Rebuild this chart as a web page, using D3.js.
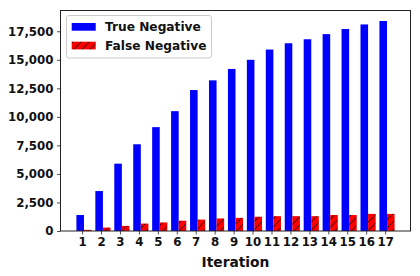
<!DOCTYPE html>
<html>
<head>
<meta charset="utf-8">
<script src="https://cdn.jsdelivr.net/npm/d3@7"></script>
<style>
  html, body { margin: 0; padding: 0; background: #fff; }
  svg { display: block; }
  text { font-family: "DejaVu Sans", sans-serif; font-weight: bold; fill: #111; }
</style>
</head>
<body>
<svg id="chart" width="420" height="276"></svg>
<script>
const iterations = [1, 2, 3, 4, 5, 6, 7, 8, 9, 10, 11, 12, 13, 14, 15, 16, 17];
const trueNegative = [1400, 3500, 5900, 7600, 9100, 10500, 12350, 13200, 14200, 15000, 15900, 16450, 16800, 17250, 17700, 18100, 18400];
const falseNegative = [100, 300, 450, 650, 750, 900, 1000, 1100, 1150, 1250, 1300, 1300, 1300, 1400, 1400, 1500, 1500];
const yTicks = [0, 2500, 5000, 7500, 10000, 12500, 15000, 17500];
const seriesNames = ["True Negative", "False Negative"];
const xLabel = "Iteration";

const svg = d3.select("#chart");
const W = 420, H = 276;
const m = { left: 60.5, right: 9.5, top: 10.5, bottom: 45 };
const x0 = m.left, x1 = W - m.right, y0 = H - m.bottom, y1 = m.top;

const barW = 0.4;
const xmin = d3.min(iterations) - 0.3, xmax = d3.max(iterations) + 0.5;
const pad = (xmax - xmin) * 0.05;
const x = d3.scaleLinear().domain([xmin - pad, xmax + pad]).range([x0, x1]);
const y = d3.scaleLinear().domain([0, d3.max(trueNegative) * 1.05]).range([y0, y1]);

// hatch pattern
const defs = svg.append("defs");
const P = 8.2;
const pat = defs.append("pattern")
  .attr("id", "hatch").attr("patternUnits", "userSpaceOnUse")
  .attr("width", P).attr("height", P);
pat.append("rect").attr("width", P).attr("height", P).attr("fill", "#ff0000");
pat.append("path").attr("d", `M-2,${P + 2} L${P + 2},-2 M-2,2 L2,-2 M${P - 2},${P + 2} L${P + 2},${P - 2}`)
  .attr("stroke", "#000").attr("stroke-width", 0.9).attr("fill", "none");

// bars
svg.append("g").selectAll("rect").data(iterations).join("rect")
  .attr("x", (d) => x(d - 0.3))
  .attr("width", (d) => x(d - 0.3 + barW) - x(d - 0.3))
  .attr("y", (d, i) => y(trueNegative[i]))
  .attr("height", (d, i) => y(0) - y(trueNegative[i]))
  .attr("fill", "#0000ff");

svg.append("g").selectAll("rect").data(iterations).join("rect")
  .attr("x", (d) => x(d + 0.1))
  .attr("width", (d) => x(d + 0.1 + barW) - x(d + 0.1))
  .attr("y", (d, i) => y(falseNegative[i]))
  .attr("height", (d, i) => y(0) - y(falseNegative[i]))
  .attr("fill", "url(#hatch)");

// axes
const fmt = d3.format(",");
const yAxis = svg.append("g").attr("transform", `translate(${x0},0)`)
  .call(d3.axisLeft(y).tickValues(yTicks).tickFormat(fmt).tickSize(3.5).tickPadding(3.5));
const xAxis = svg.append("g").attr("transform", `translate(0,${y0})`)
  .call(d3.axisBottom(x).tickValues(iterations).tickFormat(d3.format("d")).tickSize(3.5).tickPadding(3.5));
[yAxis, xAxis].forEach(g => {
  g.select(".domain").remove();
  g.selectAll(".tick line").attr("stroke", "#222").attr("stroke-width", 0.8);
  g.selectAll(".tick text").attr("font-size", "11.8px").attr("font-family", "DejaVu Sans").attr("font-weight", "bold").attr("fill", "#111");
});

// frame
svg.append("rect").attr("x", x0).attr("y", y1).attr("width", x1 - x0).attr("height", y0 - y1)
  .attr("fill", "none").attr("stroke", "#222").attr("stroke-width", 1);

// x label
svg.append("text").attr("x", (x0 + x1) / 2).attr("y", 266.5).attr("text-anchor", "middle")
  .attr("font-size", "13.8px").text(xLabel);

// legend
const lg = svg.append("g");
lg.append("rect").attr("x", 66.5).attr("y", 15.5).attr("width", 145).attr("height", 42.5)
  .attr("rx", 2.5).attr("fill", "#fff").attr("fill-opacity", 0.8).attr("stroke", "#cccccc").attr("stroke-width", 1);
const fills = ["#0000ff", "url(#hatch)"];
seriesNames.forEach((name, i) => {
  const yy = 23 + i * 18.7;
  lg.append("rect").attr("x", 71.7).attr("y", yy).attr("width", 24).attr("height", 7.7).attr("fill", fills[i]);
  lg.append("text").attr("x", 105).attr("y", yy + 8).attr("font-size", "12.2px").text(name);
});
</script>
</body>
</html>
